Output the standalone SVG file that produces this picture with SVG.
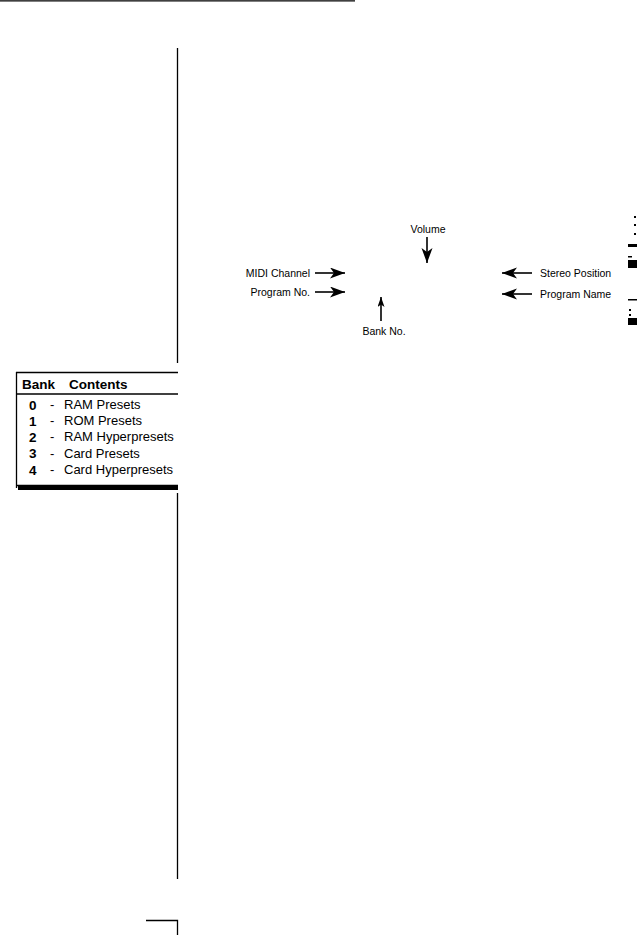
<svg xmlns="http://www.w3.org/2000/svg" width="637" height="935" viewBox="0 0 637 935">
<style>
.ln{stroke:#000;stroke-width:1.3;fill:none}
.arr{stroke:#000;stroke-width:1.6;fill:none}
.lbl{font-family:"Liberation Sans",Arial,sans-serif;font-size:10.5px;fill:#000}
.tb{font-family:"Liberation Sans",Arial,sans-serif;font-size:13px;fill:#000}
.tbb{font-family:"Liberation Sans",Arial,sans-serif;font-size:13.5px;font-weight:bold;fill:#000}
.mk{fill:#000}
</style>
<defs>
<marker id="big" markerUnits="userSpaceOnUse" markerWidth="16" markerHeight="12" refX="15" refY="5.5" orient="auto" viewBox="0 0 16 12">
<path d="M0,0 L15,5.5 L0,11 L4,5.5 Z" fill="#000"/>
</marker>
<marker id="small" markerUnits="userSpaceOnUse" markerWidth="11" markerHeight="8" refX="10" refY="3.5" orient="auto" viewBox="0 0 11 8">
<path d="M0,0 L10,3.5 L0,7 L2.5,3.5 Z" fill="#000"/>
</marker>
</defs>
<g id="page-frame">
<line class="ln" x1="0" y1="0.8" x2="355" y2="0.8" stroke-width="1.6"/>
<line class="ln" x1="177.5" y1="48" x2="177.5" y2="363"/>
<line class="ln" x1="177.5" y1="493" x2="177.5" y2="879"/>
<polyline class="ln" points="146,920.5 177.5,920.5 177.5,935"/>
</g>
<g id="connectors">
<line class="arr" x1="427" y1="237" x2="427" y2="263" marker-end="url(#big)"/>
<line class="arr" x1="315" y1="273" x2="345" y2="273" marker-end="url(#big)"/>
<line class="arr" x1="315" y1="292" x2="345" y2="292" marker-end="url(#big)"/>
<line class="arr" x1="381" y1="321" x2="381" y2="297" marker-end="url(#small)"/>
<line class="arr" x1="532" y1="273" x2="502" y2="273" marker-end="url(#big)"/>
<line class="arr" x1="532" y1="294" x2="502" y2="294" marker-end="url(#big)"/>
</g>
<g id="node-volume"><text class="lbl" x="428" y="233" text-anchor="middle">Volume</text></g>
<g id="node-midi-channel"><text class="lbl" x="310" y="277" text-anchor="end">MIDI Channel</text></g>
<g id="node-program-no"><text class="lbl" x="310" y="296" text-anchor="end">Program No.</text></g>
<g id="node-bank-no"><text class="lbl" x="384" y="335" text-anchor="middle">Bank No.</text></g>
<g id="node-stereo-position"><text class="lbl" x="540" y="277">Stereo Position</text></g>
<g id="node-program-name"><text class="lbl" x="540" y="298">Program Name</text></g>
<g id="bank-table">
<line class="ln" x1="16" y1="372.5" x2="178" y2="372.5"/>
<line class="ln" x1="16.5" y1="372" x2="16.5" y2="488"/>
<line class="ln" x1="16" y1="394" x2="178" y2="394"/>
<line class="ln" x1="16" y1="485.5" x2="178" y2="485.5"/>
<rect x="18" y="486" width="160" height="4" fill="#000"/>
<text class="tbb" x="22" y="389">Bank</text>
<text class="tbb" x="69" y="389">Contents</text>
<text class="tbb" x="29" y="410">0</text>
<text class="tbb" x="29" y="426">1</text>
<text class="tbb" x="29" y="442">2</text>
<text class="tbb" x="29" y="458">3</text>
<text class="tbb" x="29" y="475">4</text>
<text class="tb" x="50" y="409">-</text>
<text class="tb" x="50" y="425">-</text>
<text class="tb" x="50" y="441">-</text>
<text class="tb" x="50" y="458">-</text>
<text class="tb" x="50" y="474">-</text>
<text class="tb" x="64" y="409">RAM Presets</text>
<text class="tb" x="64" y="425">ROM Presets</text>
<text class="tb" x="64" y="441">RAM Hyperpresets</text>
<text class="tb" x="64" y="458">Card Presets</text>
<text class="tb" x="64" y="474">Card Hyperpresets</text>
</g>
<g id="edge-fragments">
<rect class="mk" x="634" y="216" width="2" height="2"/>
<rect class="mk" x="634" y="224" width="2" height="2"/>
<rect class="mk" x="634" y="233" width="2" height="2"/>
<rect class="mk" x="628" y="244" width="9" height="3"/>
<rect class="mk" x="628" y="256" width="4" height="1.5"/>
<rect class="mk" x="628" y="260" width="9" height="8"/>
<rect class="mk" x="628" y="299" width="9" height="1.5"/>
<rect class="mk" x="629" y="309" width="2" height="2"/>
<rect class="mk" x="629" y="314" width="2" height="2"/>
<rect class="mk" x="628" y="318" width="9" height="7"/>
</g>
</svg>
